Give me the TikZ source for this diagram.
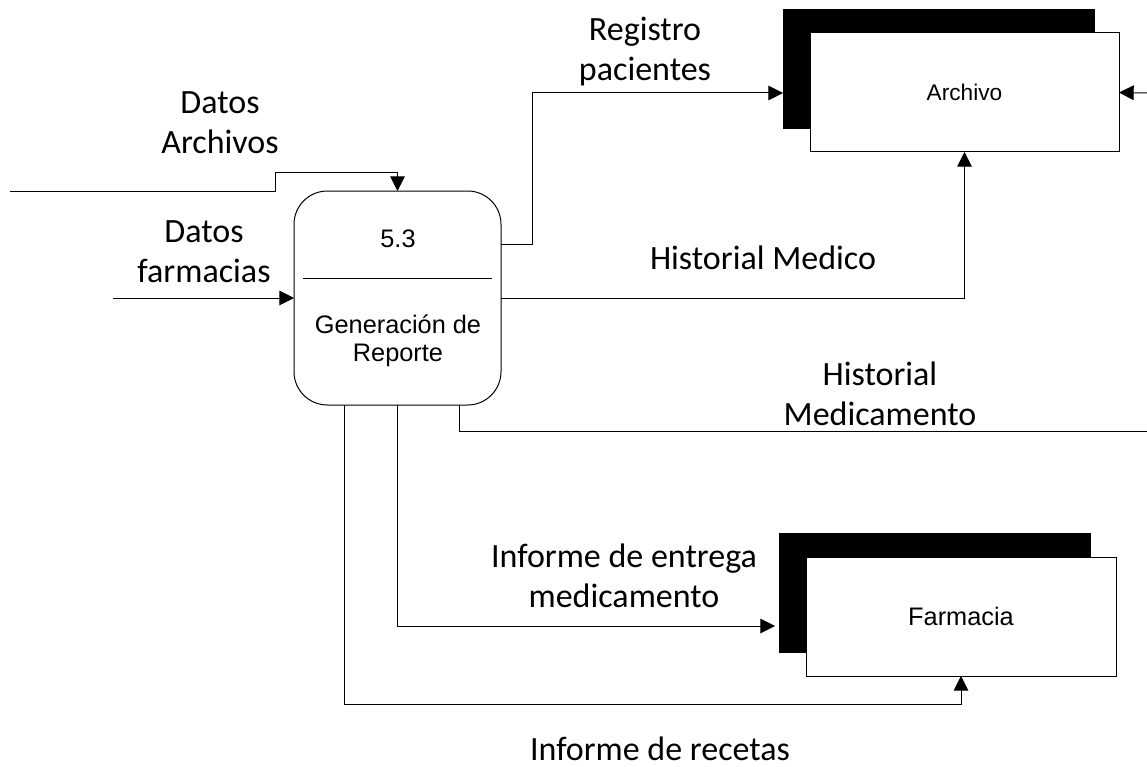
\documentclass[tikz,border=0pt]{standalone}
\usepackage{fontspec}
\setmainfont{Carlito}
\newfontfamily\arialf{Liberation Sans}
\usetikzlibrary{arrows.meta}
\begin{document}
\begin{tikzpicture}[x=0.75pt,y=-0.75pt,
  conn/.style={draw=black, line width=0.75pt},
  arr/.style={conn, -{Triangle[length=11pt,width=11pt]}},
  lbl/.style={font=\fontsize{25.5}{30}\selectfont, align=center, inner sep=0pt},
  proctext/.style={font=\arialf\fontsize{19}{21}\selectfont, align=center, inner sep=0pt},
  proc/.style={draw, line width=0.75pt, rounded corners=25pt, minimum width=155.25pt, minimum height=160.5pt, inner sep=0pt, outer sep=0pt},
  storeback/.style={fill=black, draw=black, minimum width=233.25pt, minimum height=89.25pt, inner sep=0pt, outer sep=0pt},
  storefront/.style={fill=white, draw=black, line width=0.75pt, minimum height=89.25pt, inner sep=0pt, outer sep=0pt}
]
\useasboundingbox (0,0) rectangle (1147,767);

% process
\node[proc] (p) at (397.5,298) {};
\node[proctext] (pnum) at (398,239) {5.3};
\coordinate (dl) at (303,278);
\coordinate (dr) at (492,278);
\draw[conn] (dl) -- (dr);
\node[proctext] (pname) at (398,341) {Generación de\\Reporte};

% stores
\node[storeback] (ab) at (938.5,68.5) {};
\node[storefront, minimum width=231.75pt, font=\arialf\fontsize{17}{20}\selectfont] (aw) at (964.5,92.5) {Archivo};
\node[storeback] (fb) at (934.5,592.5) {};
\node[storefront, minimum width=232.5pt, font=\arialf\fontsize{19}{22}\selectfont] (fw) at (961,616.5) {Farmacia};

% coordinates
\coordinate (da) at (10,191);
\coordinate (dak) at (275,172);
\coordinate (df) at (113,298);
\coordinate (rpA) at (501,244);
\coordinate (rpB) at (532,93);
\coordinate (rpC) at (783,93);
\coordinate (hmx) at (459,431);
\coordinate (hme) at (1147,431);
\coordinate (fe) at (775,626);
\coordinate (rx) at (344,704);
\coordinate (ar) at (1147,93);

% connectors
\draw[arr] (da) -| (dak) -| (p.north);
\draw[arr] (df) -- (p.west);
\draw[arr] (rpA) -| (rpB) -- (rpC);
\draw[arr] (p.east) -| (aw.south);
\draw[conn] (hmx |- p.south) |- (hme);
\draw[arr] (p.south) |- (fe);
\draw[arr] (rx |- p.south) |- (fw.south |- rx) -- (fw.south);
\draw[arr] (ar) -- (aw.east);

% labels
\node[lbl] (l1) at (220,123) {Datos\\Archivos};
\node[lbl] (l2) at (204,252) {Datos\\farmacias};
\node[lbl] (l3) at (645,52) {Registro\\pacientes};
\node[lbl] (l4) at (763,258) {Historial Medico};
\node[lbl] (l5) at (880,394) {Historial\\Medicamento};
\node[lbl] (l6) at (624,576) {Informe de entrega\\medicamento};
\node[lbl] (l7) at (660,749) {Informe de recetas};
\end{tikzpicture}
\end{document}
